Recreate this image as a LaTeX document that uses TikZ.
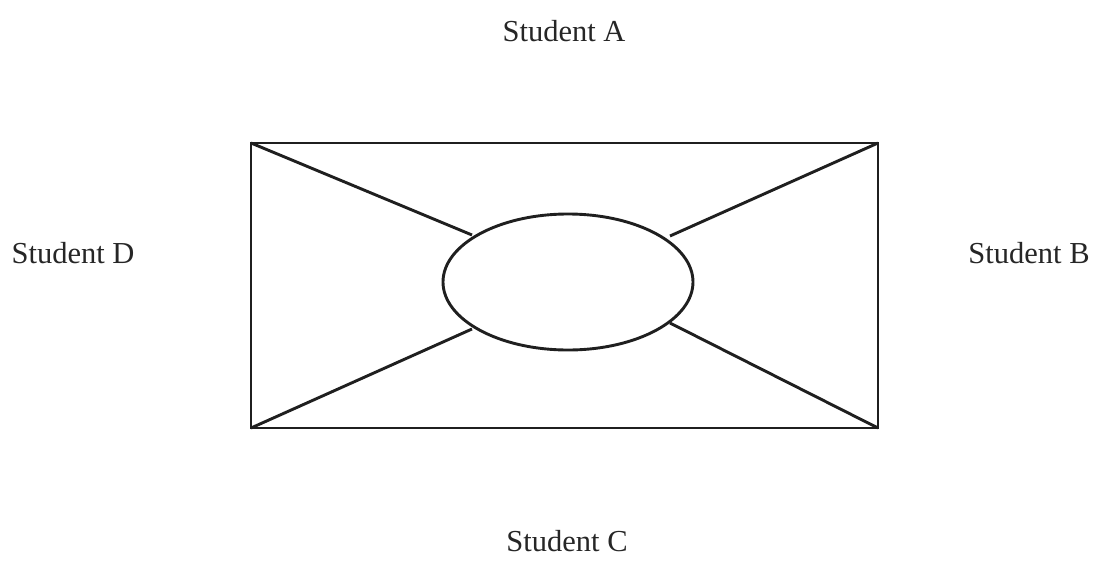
\documentclass[tikz,border=0pt]{standalone}
\usepackage{fontspec}
\usetikzlibrary{shapes.geometric}
\setmainfont{Liberation Serif}
\begin{document}
\begin{tikzpicture}[x=1pt,y=-1pt,
  lbl/.style={font=\fontsize{30.5}{34}\selectfont, text=black!85, inner sep=0pt},
  ln/.style={line width=2.9pt, draw=black!88}]
\useasboundingbox (0,0) rectangle (1101,573);
\node[lbl] (A) at (564,31) {Student A};
\node[lbl] (B) at (1029,253) {Student B};
\node[lbl] (C) at (567,541) {Student C};
\node[lbl] (D) at (73,253) {Student D};
\coordinate (tl) at (251,143);
\coordinate (tr) at (878,143);
\coordinate (bl) at (251,428);
\coordinate (br) at (878,428);
\draw[ln] (tl) rectangle (br);
\node[ln, draw, ellipse, inner sep=0pt, minimum width=250pt, minimum height=136pt] (E) at (568,282) {};
\coordinate (e1) at (472,235);
\coordinate (e2) at (670,236);
\coordinate (e3) at (472,329);
\coordinate (e4) at (670,323);
\draw[ln] (tl) -- (e1);
\draw[ln] (tr) -- (e2);
\draw[ln] (bl) -- (e3);
\draw[ln] (br) -- (e4);
\end{tikzpicture}
\end{document}
